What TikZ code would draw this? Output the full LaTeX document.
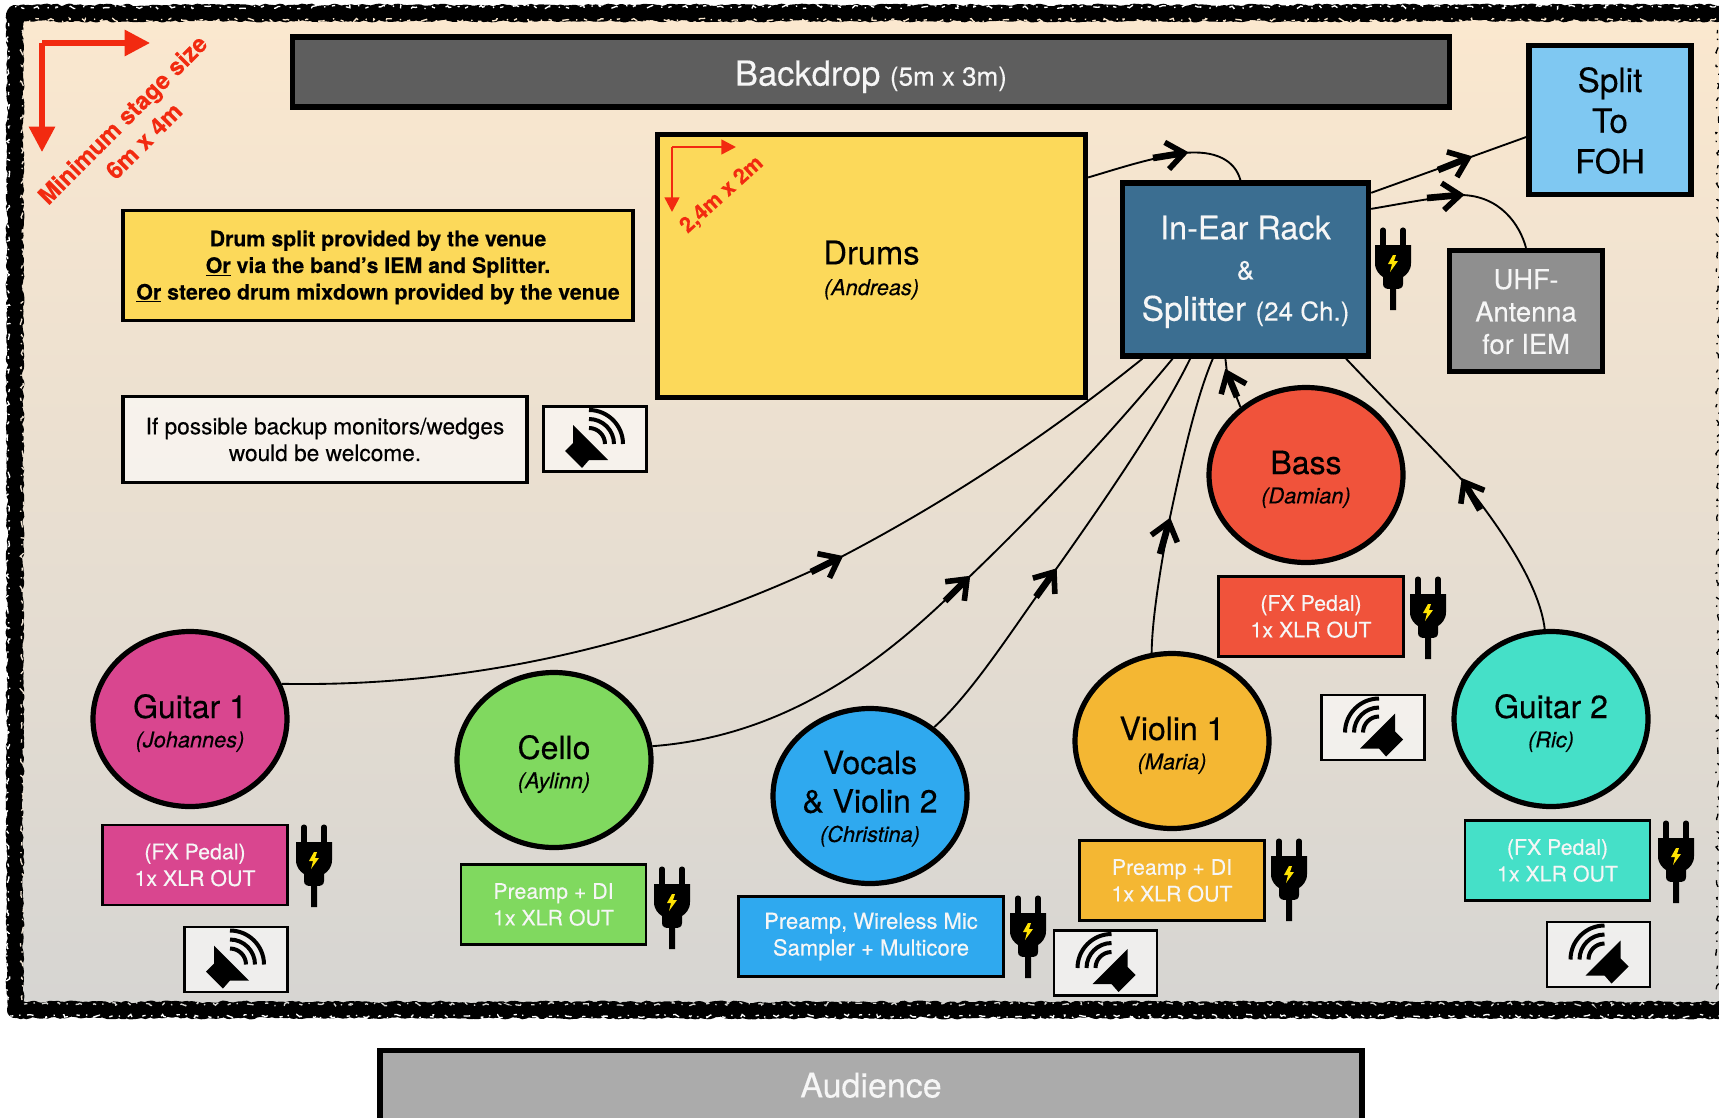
\documentclass[tikz,border=0pt]{standalone}
\usepackage{fontspec}
\setmainfont{TeX Gyre Heros}[FakeBold=0.3]
\usetikzlibrary{arrows.meta,calc,shapes.geometric,decorations.pathmorphing}
\newcommand\fsz[2]{\fontsize{#1pt}{#2pt}\selectfont}
\newcommand\persona[1]{{\fsz{16.3}{20}\itshape #1}}
\newcommand\smalltag[1]{{\fsz{19.5}{24}#1}}
\newcommand\topstrut[1]{\rule{0pt}{#1}}
\definecolor{redmark}{HTML}{F22A10}
\definecolor{stagetop}{HTML}{FBE8CF}
\definecolor{stagebot}{HTML}{D6D5D2}
\definecolor{offwhite}{HTML}{F6F6F6}
\definecolor{drumfill}{RGB}{252,217,90}
\tikzset{
  bigbox/.style={rectangle,draw=black,line width=4pt,inner sep=0pt,align=center},
  smallbox/.style={rectangle,draw=black,line width=2pt,inner sep=0pt,align=center,minimum width=185*0.75pt,minimum height=80*0.75pt,text=offwhite,font=\fsz{16}{20}},
  notebox/.style={rectangle,draw=black,line width=2.4pt,inner sep=0pt,align=center},
  spkbox/.style={rectangle,draw=black,line width=2.1pt,fill=white,fill opacity=.6,text opacity=1,minimum width=103*0.75pt,minimum height=65*0.75pt},
  player/.style={ellipse,draw=black,line width=3.9pt,inner sep=0pt,minimum width=194*0.75pt,minimum height=175*0.75pt,align=center,font=\fsz{24}{22}},
  wire/.style={draw=black,line width=1.4pt},
  barbshaft/.style={draw=black,line width=5pt},
  barb/.style={draw=black,line width=4.2pt,line join=miter},
  redline/.style={draw=redmark,-{Triangle[length=19pt,width=19pt]},line width=3.8pt},
  redthin/.style={draw=redmark,-{Triangle[length=11pt,width=11pt]},line width=1.9pt},
  rough/.style={draw=black,line width=#1,line join=round,decorate,decoration={random steps,segment length=2pt,amplitude=1.1pt}},
  speck/.style={draw=#1,line width=1pt,decorate,decoration={random steps,segment length=2pt,amplitude=1.3pt},dash pattern=on 2.5pt off 5pt on 1pt off 7pt on 5pt off 9pt}
}
\newcommand\speakerglyph[3]{% x y xscale
  \begin{scope}[shift={(#1,#2)},xscale=#3]
    \fill[black,line join=round] (-22,-14) -- (13,21) -- (-6,21) -- (-13,29) -- (-30,12) -- (-22,4) -- cycle;
    \foreach \r in {34,25,16}{
      \draw[black,line width=3pt] (-6,5-\r) .. controls ({-6+.55*\r},5-\r) and ({-6+\r},{5-.55*\r}) .. ({-6+\r},5);
    }
  \end{scope}}
\newcommand\plugglyph[2]{%
  \begin{scope}[shift={(#1,#2)}]
    \draw[black,line width=3.8pt,line cap=round] (-10,3) -- (-10,18) (10,3) -- (10,18);
    \fill[black] (-18,18) -- (18,18) -- (18,36) .. controls (18,44) and (13,48) .. (10,50) -- (10,57) .. controls (10,61) and (7,62) .. (3,62) -- (3,83) -- (-3,83) -- (-3,62) .. controls (-7,62) and (-10,61) .. (-10,57) -- (-10,50) .. controls (-13,48) and (-18,44) .. (-18,36) -- cycle;
    \fill[yellow!85!orange] (0,28) -- (-5,37) -- (-1,37) -- (-3,45) -- (5,34) -- (1,34) -- (3,28) -- cycle;
  \end{scope}}
\begin{document}
\begin{tikzpicture}[x=0.75pt,y=-0.75pt]
\useasboundingbox (0,0) rectangle (1719,1117);
\clip (0,0) rectangle (1719,1117);
\pgfmathsetseed{42}
% stage
\shade[top color=stagetop,bottom color=stagebot] (15,13) rectangle (1719,1010);
\draw[rough=12pt] (1735,13) -- (15,13) -- (15,1010) -- (1735,1010);
\draw[speck=stagetop] (1735,20) -- (24,20);
\draw[speck=stagebot] (24,1004) -- (1735,1004);
\draw[speck=white] (1735,7) -- (10,7);
\draw[speck=white] (10,1016) -- (1735,1016);
\draw[speck=stagetop!60!stagebot] (22,30) -- (22,1000);
\draw[speck=white] (8,1000) -- (8,20);
\draw[speck=black] (1717.5,30) -- (1717.5,1000);
% title boxes
\node[bigbox,fill=black!63,text=offwhite,minimum width=1157*0.75pt,minimum height=70*0.75pt,font=\fsz{25.8}{30}] (backdrop) at (871,72) {\topstrut{26pt}Backdrop \smalltag{(5m x 3m)}};
\node[bigbox,fill=black!33,text=offwhite,minimum width=982*0.75pt,minimum height=75*0.75pt,font=\fsz{25.5}{30}] (audience) at (871,1087.7) {\rule[-4pt]{0pt}{0pt}Audience};
\node[bigbox,fill={rgb,255:red,127;green,200;blue,242},minimum width=162*0.75pt,minimum height=149*0.75pt,font=\fsz{25}{30.5}] (split) at (1610,120) {\topstrut{19.5pt}Split\\To\\FOH};
\node[bigbox,fill=drumfill,minimum width=428*0.75pt,minimum height=263*0.75pt,font=\fsz{24.5}{22}] (drums) at (871.5,266) {\topstrut{24pt}Drums\\[1pt]\persona{(Andreas)}};
\node[bigbox,fill={rgb,255:red,59;green,110;blue,145},text=offwhite,minimum width=246*0.75pt,minimum height=173*0.75pt,font=\fsz{24.3}{30}] (rack) at (1245.5,269.5) {\topstrut{21.3pt}In-Ear Rack\\[0pt]\smalltag{\&}\\[1pt]\fsz{25.3}{30}Splitter \smalltag{(24 Ch.)}};
\node[bigbox,fill=black!44,text=offwhite,minimum width=153*0.75pt,minimum height=121*0.75pt,font=\fsz{20.5}{24.3}] (uhf) at (1526,311) {\topstrut{16pt}UHF-\\Antenna\\for IEM};
% notes
\node[notebox,fill=drumfill,minimum width=510*0.75pt,minimum height=110*0.75pt,font=\fsz{16}{20}\bfseries] (drumnote) at (378,265.5) {\topstrut{14.7pt}Drum split provided by the venue\\\underline{Or} via the band’s IEM and Splitter.\\\underline{Or} stereo drum mixdown provided by the venue};
\node[notebox,fill=white,fill opacity=.6,text opacity=1,minimum width=404*0.75pt,minimum height=86*0.75pt,font=\fsz{17}{20}] (monnote) at (325,439.5) {If possible backup monitors/wedges\\would be welcome.};
% players
\node[player,fill={rgb,255:red,240;green,83;blue,59}] (bass) at (1306,475) {\topstrut{24pt}Bass\\\persona{(Damian)}};
\node[player,fill={rgb,255:red,217;green,70;blue,143}] (g1) at (190,719) {\topstrut{24pt}Guitar 1\\\persona{(Johannes)}};
\node[player,fill={rgb,255:red,128;green,217;blue,95}] (cello) at (554,760) {\topstrut{24pt}Cello\\\persona{(Aylinn)}};
\node[player,fill={rgb,255:red,47;green,169;blue,239}] (vocals) at (870,796) {\topstrut{21.3pt}Vocals\\[7pt]\& Violin 2\\\persona{(Christina)}};
\node[player,fill={rgb,255:red,244;green,183;blue,51}] (violin) at (1172,741) {\topstrut{24pt}Violin 1\\\persona{(Maria)}};
\node[player,fill={rgb,255:red,69;green,224;blue,200}] (g2) at (1551,719) {\topstrut{24pt}Guitar 2\\\persona{(Ric)}};
% pedal boxes
\node[smallbox,fill={rgb,255:red,240;green,83;blue,59}] (bassfx) at (1311,616.5) {(FX Pedal)\\1x XLR OUT};
\node[smallbox,fill={rgb,255:red,217;green,70;blue,143}] (g1fx) at (195,865) {(FX Pedal)\\1x XLR OUT};
\node[smallbox,fill={rgb,255:red,128;green,217;blue,95}] (cellofx) at (553.5,904.5) {Preamp + DI\\1x XLR OUT};
\node[smallbox,fill={rgb,255:red,47;green,169;blue,239},minimum width=265*0.75pt,font=\fsz{16.5}{20}] (vocfx) at (871,936.5) {Preamp, Wireless Mic\\Sampler + Multicore};
\node[smallbox,fill={rgb,255:red,244;green,183;blue,51}] (violinfx) at (1172,880.5) {Preamp + DI\\1x XLR OUT};
\node[smallbox,fill={rgb,255:red,69;green,224;blue,200}] (g2fx) at (1557.5,860.5) {(FX Pedal)\\1x XLR OUT};
% speaker boxes
\node[spkbox] (sp1) at (595,439) {};
\node[spkbox] (sp2) at (236,959.5) {};
\node[spkbox] (sp3) at (1373,727.5) {};
\node[spkbox] (sp4) at (1105.5,963) {};
\node[spkbox] (sp5) at (1598.5,954.5) {};
\speakerglyph{595}{439}{1}
\speakerglyph{236}{959.5}{1}
\speakerglyph{1373}{727.5}{-1}
\speakerglyph{1105.5}{963}{-1}
\speakerglyph{1598.5}{954.5}{-1}
% plugs
\plugglyph{314}{824}
\plugglyph{672}{866}
\plugglyph{1028}{895}
\plugglyph{1289}{838}
\plugglyph{1428}{576}
\plugglyph{1676}{820}
\plugglyph{1393}{227}
% red measures
\coordinate (stagec) at (42,43);
\coordinate (stagex) at (150,43);
\coordinate (stagey) at (42,152);
\draw[redline] (stagec) -- (stagex);
\draw[redline] (stagec) -- (stagey);
\node[rotate=45,text=redmark,align=center,font=\fsz{18}{22.5}\bfseries] (stagelabel) at (133,130) {Minimum stage size\\6m x 4m};
\coordinate (drumc) at (672,147);
\coordinate (drumx) at (736,147);
\coordinate (drumy) at (672,212);
\draw[redthin] (drumc) -- (drumx);
\draw[redthin] (drumc) -- (drumy);
\node[rotate=42,text=redmark,font=\fsz{16}{20}\bfseries] (drumlabel) at (722,195) {2,4m x 2m};
% tips
\coordinate (ta) at (839,558); \coordinate (ua) at (811,572);
\coordinate (tb) at (967,579); \coordinate (ub) at (945,601);
\coordinate (tc) at (1054,572); \coordinate (uc) at (1036,597);
\coordinate (td) at (1169,522); \coordinate (ud) at (1160,554);
\coordinate (te) at (1227,373); \coordinate (ue) at (1237,397);
\coordinate (tf) at (1464,482); \coordinate (uf) at (1480,510);
\coordinate (tg) at (1184,153); \coordinate (ug) at (1153,158);
\coordinate (th) at (1468,158); \coordinate (uh) at (1438,170);
\coordinate (ti) at (1460,195); \coordinate (ui) at (1427,198);
% wires
\draw[wire] (g1.21) .. controls (500,688) and (690,630) .. (ta);
\draw[wire] (ta) .. controls (960,495) and (1060,425) .. ($(rack.south west)!.09!(rack.south east)$);
\draw[wire] (cello.8) .. controls (800,735) and (900,645) .. (tb);
\draw[wire] (tb) .. controls (1060,490) and (1130,410) .. ($(rack.south west)!.21!(rack.south east)$);
\draw[wire] (vocals.47) .. controls (975,690) and (1015,625) .. (tc);
\draw[wire] (tc) .. controls (1105,500) and (1160,420) .. ($(rack.south west)!.28!(rack.south east)$);
\draw[wire] (violin.103) .. controls (1152,620) and (1160,570) .. (td);
\draw[wire] (td) .. controls (1180,470) and (1195,400) .. ($(rack.south west)!.37!(rack.south east)$);
\draw[wire] (bass.134) -- (te) -- ($(rack.south west)!.42!(rack.south east)$);
\draw[wire] (g2.94) .. controls (1540,590) and (1510,540) .. (tf);
\draw[wire] (tf) .. controls (1425,440) and (1385,400) .. ($(rack.south west)!.90!(rack.south east)$);
\draw[wire] ($(drums.north east)!.17!(drums.south east)$) .. controls (1120,168) and (1150,158) .. (tg);
\draw[wire] (tg) .. controls (1215,150) and (1235,160) .. ($(rack.north west)!.48!(rack.north east)$);
\draw[wire] ($(rack.north east)!.07!(rack.south east)$) -- (th) -- ($(split.north west)!.61!(split.south west)$);
\draw[wire] ($(rack.north east)!.16!(rack.south east)$) .. controls (1400,204) and (1430,198) .. (ti);
\draw[wire] (ti) .. controls (1500,195) and (1520,225) .. (uhf.north);
\foreach \u/\t in {ua/ta,ub/tb,uc/tc,ud/td,ue/te,uf/tf,ug/tg,uh/th,ui/ti}{
  \draw[barbshaft] (\u) -- (\t);
  \draw[barb] ($(\t)!16.5pt!38:(\u)$) -- (\t) -- ($(\t)!16.5pt!-38:(\u)$);
}
\end{tikzpicture}
\end{document}
